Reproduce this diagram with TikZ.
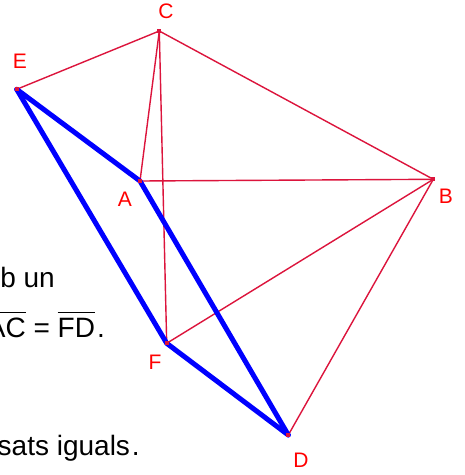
\documentclass[tikz,border=0pt]{standalone}
\usepackage{fontspec}
\setmainfont{Liberation Sans}
\definecolor{segred}{RGB}{220,20,60}
\definecolor{lblred}{RGB}{255,0,0}
\definecolor{polyblue}{RGB}{0,0,255}
\newcommand\myovl[1]{\leavevmode\vbox{\hrule height 1.3pt\kern 4.5pt\hbox{#1}}}
\tikzset{
  seg/.style={draw=segred, line width=1.4pt},
  thickseg/.style={draw=polyblue, line width=5pt, line join=round, line cap=round},
  pt/.style={fill=segred, minimum size=4pt, inner sep=0pt, draw=none, rectangle},
  lbl/.style={text=lblred, font=\fontsize{21}{25}\selectfont, inner sep=0pt},
  txt/.style={text=black, font=\fontsize{28}{32}\selectfont, inner sep=0pt}
}
\begin{document}
\begin{tikzpicture}[x=1pt,y=-1pt]
\useasboundingbox (0,0) rectangle (465,475);
\clip (0,0) rectangle (465,475);
\fill[white] (0,0) rectangle (465,475);
% points
\coordinate (E) at (16.7,89.3);
\coordinate (C) at (159.3,31);
\coordinate (A) at (140,181);
\coordinate (B) at (433.3,179.3);
\coordinate (D) at (288.3,435);
\coordinate (F) at (166.7,343.3);
% red segments
\draw[seg] (E) -- (C);
\draw[seg] (C) -- (A);
\draw[seg] (C) -- (F);
\draw[seg] (C) -- (B);
\draw[seg] (A) -- (B);
\draw[seg] (F) -- (B);
\draw[seg] (B) -- (D);
% blue polygon
\draw[thickseg] (E) -- (A) -- (D);
\draw[thickseg] (E) -- (F) -- (D);
% point markers
\foreach \p in {E,C,A,B,D,F} \node[pt] at (\p) {};
% labels
\node[lbl] (lC) at (166,11) {C};
\node[lbl] (lE) at (20,61) {E};
\node[lbl] (lA) at (125,199) {A};
\node[lbl] (lB) at (446,196) {B};
\node[lbl] (lF) at (155,362) {F};
\node[lbl] (lD) at (301,460) {D};
% text
\node[txt, anchor=base east] (t1) at (55,287) {b un};
\node[txt, anchor=base east] (t2) at (105,337) {\myovl{AC} = \myovl{FD}\kern2pt.};
\node[txt, anchor=base east] (t3) at (140,455) {sats iguals\kern2pt.};
\end{tikzpicture}
\end{document}
